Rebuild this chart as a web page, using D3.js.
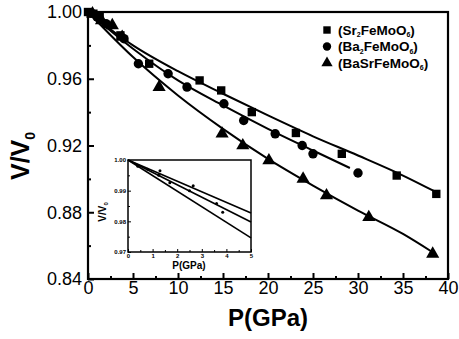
<!DOCTYPE html>
<html>
<head>
<meta charset="utf-8">
<script src="https://cdn.jsdelivr.net/npm/d3@7"></script>
<style>
  body { margin: 0; background: #fff; }
  svg { display: block; font-family: Arial, "Liberation Sans", sans-serif; }
</style>
</head>
<body>
<div id="chart"></div>
<script>
// measured points, [P (GPa), V/V0]
const sr2Points = [[0, 1.0], [0.6, 0.999], [1.3, 0.997], [3.6, 0.986], [6.8, 0.969], [12.4, 0.959],
  [14.8, 0.953], [18.2, 0.940], [23.1, 0.9275], [28.2, 0.915], [34.3, 0.902], [38.7, 0.891]];
const ba2Points = [[0.3, 0.9995], [1.0, 0.997], [2.0, 0.993], [4.0, 0.984], [5.6, 0.969], [8.9, 0.963],
  [11.0, 0.955], [15.1, 0.945], [17.3, 0.935], [20.8, 0.927], [23.8, 0.920], [25.0, 0.915], [30.0, 0.9035]];
const basrPoints = [[0.5, 0.999], [1.5, 0.995], [2.7, 0.992], [3.8, 0.985], [7.9, 0.955], [14.9, 0.927],
  [17.2, 0.920], [20.1, 0.911], [23.9, 0.900], [26.5, 0.890], [31.2, 0.877], [38.3, 0.855]];

// fitted curves
const sr2Fit = [[0, 1.0], [5, 0.980], [10, 0.9645], [15, 0.951], [20, 0.938], [25, 0.9255], [30, 0.914], [35, 0.902], [38.7, 0.892]];
const ba2Fit = [[0, 1.0], [5, 0.978], [10, 0.959], [15, 0.944], [20, 0.930], [25, 0.917], [29.1, 0.9065]];
const basrFit = [[0, 1.0], [5, 0.973], [10, 0.950], [15, 0.930], [20, 0.912], [25, 0.896], [30, 0.881], [35, 0.867], [38.3, 0.856]];

// inset (low pressure region)
const insetSr2Fit = [[0, 1.0], [5, 0.9827]];
const insetBa2Fit = [[0, 1.0], [5, 0.9798]];
const insetBasrFit = [[0, 1.0], [5, 0.9746]];
const insetPoints = [[0.4, 0.998], [0.8, 0.997], [1.3, 0.9965], [1.25, 0.995], [1.7, 0.9926],
  [2.65, 0.9916], [2.5, 0.990], [3.6, 0.9858], [3.85, 0.983]];

const xTicks = [0, 5, 10, 15, 20, 25, 30, 35, 40];
const yTicks = [0.84, 0.88, 0.92, 0.96, 1.00];
const insetXTicks = [0, 1, 2, 3, 4, 5];
const insetYTicks = [0.97, 0.98, 0.99, 1.00];

const width = 459, height = 339;

const svg = d3.select('#chart')
  .append('svg')
  .attr('width', width)
  .attr('height', height);

const x = d3.scaleLinear().domain([0, 40]).range([88, 448]);
const y = d3.scaleLinear().domain([0.84, 1.0]).range([279, 12]);

// minor ticks
svg.append('g')
  .attr('transform', `translate(0,${y(0.84)})`)
  .call(d3.axisBottom(x).tickValues(d3.range(2.5, 40, 5)).tickSizeInner(-3).tickSizeOuter(0).tickFormat(''))
  .call(g => g.select('.domain').remove())
  .selectAll('line').attr('stroke-width', 2);
svg.append('g')
  .attr('transform', `translate(${x(0)},0)`)
  .call(d3.axisLeft(y).tickValues([0.86, 0.90, 0.94, 0.98]).tickSizeInner(-3).tickSizeOuter(0).tickFormat(''))
  .call(g => g.select('.domain').remove())
  .selectAll('line').attr('stroke-width', 2);

// major axes
const xAxis = svg.append('g')
  .attr('transform', `translate(0,${y(0.84)})`)
  .call(d3.axisBottom(x).tickValues(xTicks).tickSizeInner(-6).tickSizeOuter(0).tickPadding(2).tickFormat(d3.format('d')));
xAxis.selectAll('text').attr('font-size', 18).attr('fill', '#000');
xAxis.selectAll('line').attr('stroke-width', 2);
xAxis.select('.domain').remove();

const yAxis = svg.append('g')
  .attr('transform', `translate(${x(0)},0)`)
  .call(d3.axisLeft(y).tickValues(yTicks).tickSizeInner(-6).tickSizeOuter(0).tickPadding(6).tickFormat(d3.format('.2f')));
yAxis.selectAll('text').attr('font-size', 18).attr('fill', '#000');
yAxis.selectAll('line').attr('stroke-width', 2);
yAxis.select('.domain').remove();

// frame
svg.append('rect')
  .attr('x', x(0)).attr('y', y(1.0))
  .attr('width', x(40) - x(0)).attr('height', y(0.84) - y(1.0))
  .attr('fill', 'none').attr('stroke', '#000').attr('stroke-width', 2.2);

// axis titles
svg.append('text')
  .attr('x', 268).attr('y', 326)
  .attr('text-anchor', 'middle')
  .attr('font-size', 24).attr('font-weight', 'bold')
  .text('P(GPa)');

const yTitle = svg.append('text')
  .attr('transform', 'translate(29,156) rotate(-90)')
  .attr('text-anchor', 'middle')
  .attr('font-size', 25).attr('font-weight', 'bold');
yTitle.append('tspan').text('V/V');
yTitle.append('tspan').attr('font-size', 14).attr('dy', 6).text('0');

// fitted lines
const line = d3.line().x(d => x(d[0])).y(d => y(d[1])).curve(d3.curveMonotoneX);
[sr2Fit, ba2Fit, basrFit].forEach(fit => {
  svg.append('path')
    .datum(fit)
    .attr('d', line)
    .attr('fill', 'none')
    .attr('stroke', '#000')
    .attr('stroke-width', 2);
});

// markers
const square = d3.symbol().type(d3.symbolSquare).size(70);
const circle = d3.symbol().type(d3.symbolCircle).size(70);
const triangle = d3.symbol().type(d3.symbolTriangle).size(75);

function drawPoints(data, sym) {
  svg.append('g')
    .selectAll('path')
    .data(data)
    .enter()
    .append('path')
    .attr('d', sym)
    .attr('transform', d => `translate(${x(d[0])},${y(d[1])})`)
    .attr('fill', '#000');
}
drawPoints(sr2Points, square);
drawPoints(ba2Points, circle);
drawPoints(basrPoints, triangle);

// legend
const legendItems = [
  { sym: square, parts: ['(Sr', '2', 'FeMoO', '6', ')'] },
  { sym: circle, parts: ['(Ba', '2', 'FeMoO', '6', ')'] },
  { sym: triangle, parts: ['(BaSrFeMoO', '6', ')'] }
];
legendItems.forEach((item, i) => {
  const ly = 30 + i * 16.5;
  svg.append('path')
    .attr('d', item.sym.size(55)())
    .attr('transform', `translate(327,${ly})`)
    .attr('fill', '#000');
  const t = svg.append('text')
    .attr('x', 338).attr('y', ly + 4.5)
    .attr('font-size', 13.5).attr('font-weight', 'bold');
  item.parts.forEach((p, j) => {
    const isSub = /^\d$/.test(p);
    t.append('tspan')
      .attr('font-size', isSub ? 7 : 13.5)
      .attr('dy', isSub ? 2.5 : (j > 0 ? -2.5 : 0))
      .text(p);
  });
});

// inset
const ix = d3.scaleLinear().domain([0, 5]).range([128, 251]);
const iy = d3.scaleLinear().domain([0.97, 1.0]).range([252, 160]);

svg.append('rect')
  .attr('x', ix(0)).attr('y', iy(1.0))
  .attr('width', ix(5) - ix(0)).attr('height', iy(0.97) - iy(1.0))
  .attr('fill', '#fff').attr('stroke', '#000').attr('stroke-width', 1.5);

svg.append('g')
  .attr('transform', `translate(0,${iy(0.97)})`)
  .call(d3.axisBottom(ix).tickValues(d3.range(0.5, 5, 1)).tickSizeInner(-2).tickSizeOuter(0).tickFormat(''))
  .call(g => g.select('.domain').remove());
svg.append('g')
  .attr('transform', `translate(${ix(0)},0)`)
  .call(d3.axisLeft(iy).tickValues([0.975, 0.985, 0.995]).tickSizeInner(-2).tickSizeOuter(0).tickFormat(''))
  .call(g => g.select('.domain').remove());

const ixAxis = svg.append('g')
  .attr('transform', `translate(0,${iy(0.97)})`)
  .call(d3.axisBottom(ix).tickValues(insetXTicks).tickSizeInner(-3).tickSizeOuter(0).tickPadding(2).tickFormat(d3.format('d')));
ixAxis.selectAll('text').attr('font-size', 6).attr('font-weight', 'bold').attr('fill', '#000');
ixAxis.select('.domain').remove();

const iyAxis = svg.append('g')
  .attr('transform', `translate(${ix(0)},0)`)
  .call(d3.axisLeft(iy).tickValues(insetYTicks).tickSizeInner(-3).tickSizeOuter(0).tickPadding(2).tickFormat(d3.format('.2f')));
iyAxis.selectAll('text').attr('font-size', 6).attr('font-weight', 'bold').attr('fill', '#000');
iyAxis.select('.domain').remove();

const iline = d3.line().x(d => ix(d[0])).y(d => iy(d[1]));
[insetSr2Fit, insetBa2Fit, insetBasrFit].forEach(fit => {
  svg.append('path')
    .datum(fit)
    .attr('d', iline)
    .attr('fill', 'none')
    .attr('stroke', '#000')
    .attr('stroke-width', 1.6);
});

svg.append('g')
  .selectAll('circle')
  .data(insetPoints)
  .enter()
  .append('circle')
  .attr('cx', d => ix(d[0]))
  .attr('cy', d => iy(d[1]))
  .attr('r', 1.5)
  .attr('fill', '#000');

svg.append('text')
  .attr('x', 189).attr('y', 269)
  .attr('text-anchor', 'middle')
  .attr('font-size', 10).attr('font-weight', 'bold')
  .text('P(GPa)');

const iyTitle = svg.append('text')
  .attr('transform', 'translate(106,212) rotate(-90)')
  .attr('text-anchor', 'middle')
  .attr('font-size', 10).attr('font-weight', 'bold');
iyTitle.append('tspan').text('V/V');
iyTitle.append('tspan').attr('font-size', 6).attr('dy', 2).text('0');
</script>
</body>
</html>
